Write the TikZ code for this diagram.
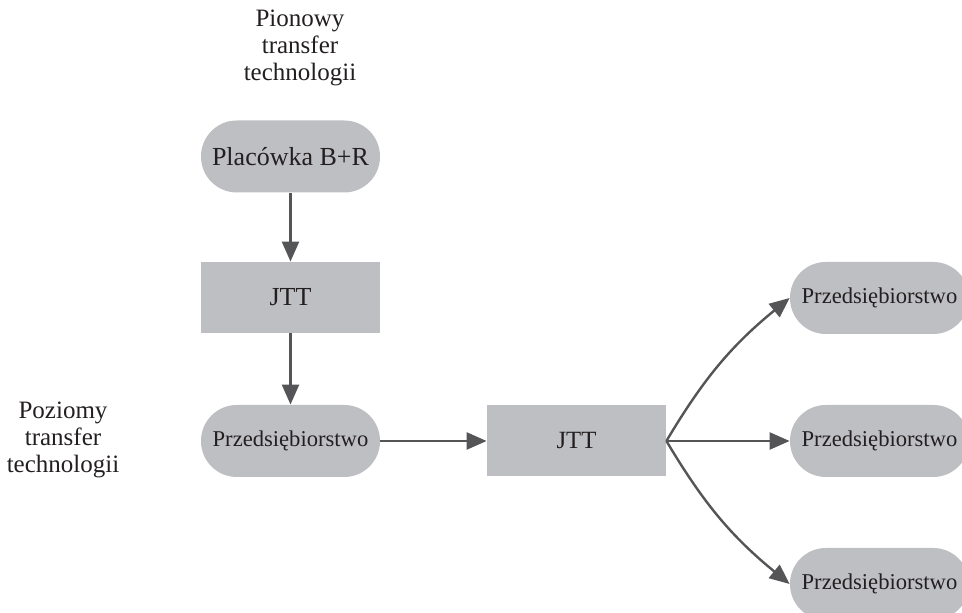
\documentclass[tikz,border=0pt]{standalone}
\usepackage{fontspec}
\setmainfont{Liberation Serif}
\usetikzlibrary{arrows.meta,positioning}
\definecolor{fillgray}{RGB}{190,191,194}
\definecolor{linegray}{RGB}{85,85,87}
\definecolor{txtcolor}{RGB}{35,31,32}
\tikzset{
  pillnode/.style={rectangle, rounded corners=17.9pt, fill=fillgray, text=txtcolor,
    minimum width=89.5pt, minimum height=36pt, inner sep=0pt},
  boxnode/.style={rectangle, fill=fillgray, text=txtcolor,
    minimum width=89.5pt, minimum height=35.5pt, inner sep=0pt},
  labeltxt/.style={align=center, text=txtcolor, font=\fontsize{12.5}{13.5}\selectfont},
  flowln/.style={-{Triangle[length=10pt,width=8.5pt]}, line width=1.2pt, linegray},
}
\begin{document}
\begin{tikzpicture}[x=0.5pt, y=0.5pt]
    \clip (0,0) rectangle (962,613);
    % Labels
    \node[labeltxt] (pion) at (300,565) {Pionowy\\transfer\\technologii};
    \node[labeltxt] (poz) at (63,173) {Poziomy\\transfer\\technologii};
    % Vertical chain
    \node[pillnode, font=\fontsize{13}{15}\selectfont] (placowka) at (290.5,456.5) {Placówka B+R};
    \node[boxnode, font=\fontsize{13}{15}\selectfont] (jttv) at (290.5,315.5) {JTT};
    \node[pillnode, font=\fontsize{11.3}{13}\selectfont] (przed) at (290.5,172) {Przedsiębiorstwo};
    % Horizontal chain
    \node[boxnode, font=\fontsize{12.4}{14}\selectfont] (jtth) at (576.5,172) {JTT};
    \node[pillnode, font=\fontsize{11.3}{13}\selectfont] (przedA) at (879.5,315) {Przedsiębiorstwo};
    \node[pillnode, font=\fontsize{11.3}{13}\selectfont] (przedB) at (879.5,172) {Przedsiębiorstwo};
    \node[pillnode, font=\fontsize{11.3}{13}\selectfont] (przedC) at (879.5,29) {Przedsiębiorstwo};
    % Arrows
    \draw[flowln] (placowka.south) -- (jttv.north);
    \draw[flowln] (jttv.south) -- (przed.north);
    \draw[flowln] (przed.east) -- (jtth.west);
    \draw[flowln] (jtth.east) to[bend left=10] (przedA.west);
    \draw[flowln] (jtth.east) -- (przedB.west);
    \draw[flowln] (jtth.east) to[bend right=10] (przedC.west);
  \end{tikzpicture}
\end{document}
